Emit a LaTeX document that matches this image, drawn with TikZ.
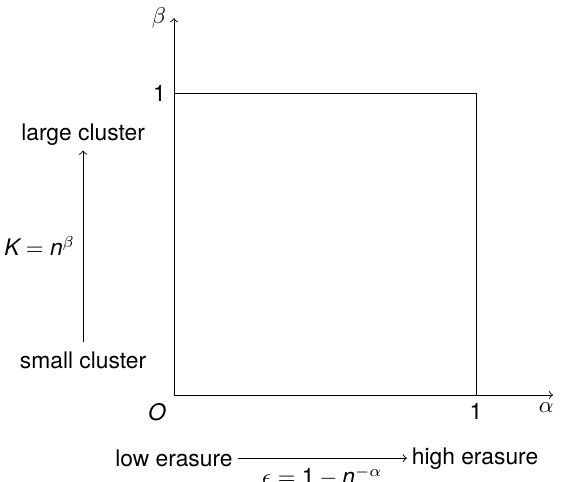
\documentclass[tikz,border=0pt]{standalone}
\usepackage{amsmath}
\usepackage{fontspec}
\setmainfont{TeX Gyre Heros}
\usepackage{tikz}
\newcommand{\itsf}[1]{\mbox{\itshape #1}}

\begin{document}
\begin{tikzpicture}[x=4.656cm,y=4.656cm,>=to]
                        \useasboundingbox (-0.576,-0.285) rectangle (1.2815,1.308);
                        % Nodes
                        \coordinate (O) at (0,0);
                        \coordinate (xend) at (1.255,0);
                        \coordinate (yend) at (0,1.248);
                        \coordinate (one) at (1,1);
                        \node[below left] (origin) at (O) {\itsf{O}};
                        \node[left] (ylab) at (yend) {$\beta$};
                        \node[below, xshift=-3pt] (xlab) at (xend) {$\alpha$};
                        \node[left] (yone) at (0,1) {1};
                        \node[below] (xone) at (1,0) {1};
                        \node[inner sep=2pt] (large) at (-0.301,0.862) {large cluster};
                        \node[inner sep=2pt] (small) at (-0.301,0.116) {small cluster};
                        \node[inner sep=2pt] (low) at (0,-0.209) {low erasure};
                        \node[inner sep=2pt] (high) at (0.997,-0.209) {high erasure};

                        % Edges
                        \draw[->] (O) -- (xend);
                        \draw[->] (O) -- (yend);
                        \draw[-] (yone.east) -- (one);
                        \draw[-] (one) -- (xone.north);

                        \draw[->] ([yshift=2pt]small.north) -- (large.south)
                            node[midway, left] {$\itsf{K} = \itsf{n}^{\beta}$};
                        \draw[->] (low) -- (high)
                            node[midway, below] {$\epsilon = \mbox{1} - \itsf{n}^{-\alpha}$};
                    \end{tikzpicture}
\end{document}
